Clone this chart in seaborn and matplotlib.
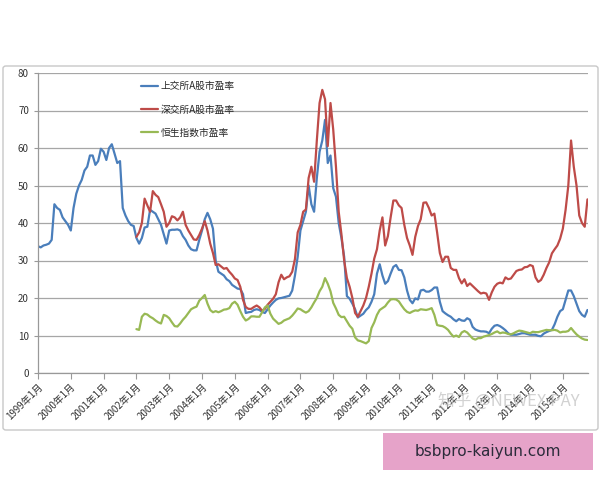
import pandas as pd
import matplotlib
matplotlib.use('Agg')
import matplotlib.pyplot as plt
import seaborn as sns
from matplotlib.patches import FancyBboxPatch, Rectangle

# monthly P/E, 1999-01 .. 2015-10 (month index 0 = 1999-01)
sh_start = 0
sh_pe = [
    33.8, 33.5, 34, 34.2, 34.5, 35.5, 45, 44, 43.5, 41.5, 40.5, 39.5,
    38, 44, 47.8, 50, 51.5, 54, 55, 58, 58, 55.5, 56.5, 59.8,
    59, 56.8, 60, 61, 58.5, 56, 56.5, 44, 42, 40.5, 39.5, 39.2,
    36, 34.5, 36, 38.8, 39, 43.5, 43, 42.5, 41, 39.5, 37, 34.5,
    38, 38.2, 38.2, 38.3, 38, 36.5, 35.5, 34, 33, 32.7, 32.7, 35.5,
    38, 41, 42.7, 41, 38.5, 30, 27, 26.5, 26, 25, 24.5, 23.5,
    23, 22.5, 22.4, 21, 16, 16.2, 16.3, 16.8, 17, 16.8, 16.3, 16,
    17, 18, 18.8, 19.5, 19.9, 20, 20.2, 20.4, 20.6, 22, 26, 31,
    38, 40.5, 43, 50, 45, 43, 52, 59, 62, 67.5, 56, 58,
    49.3, 47, 40, 36, 31, 20.5, 19.8, 18.5, 17, 14.8, 15.3, 15.8,
    16.8, 17.5, 19, 21, 26.5, 29, 26, 23.8, 24.5, 26.5, 28.3, 28.8,
    27.5, 27.4, 25.5, 22, 19.5, 18.6, 19.9, 19.6, 22, 22.2, 21.7, 21.7,
    22.1, 22.8, 22.8, 19, 16.5, 15.9, 15.4, 15, 14.3, 13.8, 14.4, 14,
    13.9, 14.6, 14.2, 12.3, 11.6, 11.3, 11.1, 11.1, 11, 10.6, 11.8, 12.6,
    12.8, 12.5, 12, 11.4, 10.6, 10.2, 10.2, 10.2, 10.4, 10.6, 10.6, 10.4,
    10.2, 10.2, 10.2, 9.9, 9.8, 10.5, 10.9, 11.2, 11.5, 13, 15, 16.5,
    17, 19.5, 22, 22, 20.5, 18.5, 16.5, 15.5, 15, 16.8,
]

sz_start = 36
sz_pe = [
    36.3, 37.5, 40, 46.5, 44.7, 43, 48.5, 47.5, 46.9, 45, 43, 39,
    40, 41.8, 41.5, 40.7, 41.5, 43, 39.5, 38, 36.8, 35.6, 35.5, 36.8,
    38.5, 40.5, 38, 34.5, 32, 28.8, 29, 28.4, 27.8, 28, 27, 26.2,
    25.2, 24.8, 23, 19.5, 17.6, 17.1, 17.1, 17.6, 18, 17.5, 16.6, 17.1,
    18.2, 19, 19.8, 21, 24.2, 26.2, 25, 25.5, 25.8, 27, 30.4, 37.5,
    39.5, 43, 43.6, 52, 55, 51, 62, 72, 75.5, 73, 60.5, 72,
    64.9, 55, 43, 37, 30, 25.3, 23, 20, 16, 15, 16.5, 18,
    20, 23, 26.5, 30.5, 33, 38, 41.5, 34, 36.5, 41.5, 46, 46,
    44.7, 44, 39.5, 36, 34, 31.5, 36.3, 39.2, 41, 45.4, 45.5, 44,
    42, 42.5, 37.5, 32, 29.6, 31, 31, 28, 27.5, 27.5, 25.3, 23.9,
    25, 23.2, 23.9, 23.2, 22.5, 21.8, 21.2, 21.4, 21.2, 19.5, 21.5, 23,
    23.8, 24.1, 23.9, 25.5, 25, 25.2, 26.2, 27.2, 27.5, 27.6, 28.2, 28.3,
    28.8, 28.5, 25.5, 24.3, 24.8, 26.2, 28, 29.5, 31.9, 33, 34, 35.8,
    38.5, 43.5, 50, 62, 55, 50, 42, 40, 39, 46.3,
]

hs_start = 36
hs_pe = [
    11.7, 11.5, 15, 15.8, 15.6, 15, 14.6, 14, 13.5, 13.2, 15.5, 15.2,
    14.6, 13.5, 12.5, 12.4, 13.2, 14.2, 15, 16, 17, 17.4, 17.7, 19.3,
    20, 20.8, 18.5, 16.8, 16.2, 16.5, 16.2, 16.5, 16.9, 17, 17.3, 18.5,
    19, 18.2, 16.5, 15, 14, 14.4, 15.1, 15.1, 15, 15, 16.2, 17.5,
    18, 15.8, 14.5, 13.8, 13.1, 13.4, 14, 14.3, 14.6, 15.3, 16.2, 17.2,
    17, 16.5, 16.1, 16.5, 17.5, 18.8, 20, 21.8, 23, 25.3, 23.8, 21.8,
    18.7, 17.2, 15.5, 14.9, 15, 13.8, 12.6, 11.8, 9.5, 8.7, 8.5, 8.2,
    7.9, 8.5, 12, 13.5, 15.5, 16.8, 17.3, 17.8, 18.8, 19.6, 19.7, 19.6,
    19.1, 18, 17, 16.3, 16, 16.4, 16.7, 16.6, 17, 16.9, 16.8, 17,
    17.3, 15.5, 12.8, 12.6, 12.5, 12.1, 11.5, 10.5, 9.7, 10, 9.6, 10.8,
    11.2, 10.8, 10, 9.2, 8.9, 9.3, 9.3, 9.7, 9.9, 10.1, 10.4, 10.8,
    11.1, 10.6, 10.8, 10.7, 10.4, 10.3, 10.6, 11, 11.3, 11.2, 11, 10.8,
    10.6, 11, 10.9, 10.9, 11.1, 11.3, 11.5, 11.4, 11.4, 11.5, 11.3, 10.8,
    11, 11, 11.2, 12, 11.1, 10.3, 9.7, 9.2, 8.9, 8.8,
]

series_names = ['上交所A股市盈率', '深交所A股市盈率', '恒生指数市盈率']
series_colors = ['#4A7EBB', '#BE4B48', '#98B954']
years = list(range(1999, 2016))
tick_labels = [f'{y}年1月' for y in years]

frames = []
for name, start, vals in zip(series_names, [sh_start, sz_start, hs_start], [sh_pe, sz_pe, hs_pe]):
    frames.append(pd.DataFrame({'month': range(start, start + len(vals)), 'pe': vals, 'series': name}))
df = pd.concat(frames, ignore_index=True)

sns.set_style('white')
plt.rcParams['font.family'] = ['Noto Sans CJK SC', 'DejaVu Sans']

fig = plt.figure(figsize=(6, 4.8), dpi=100)

# outer chart frame like the Excel chart area
fig.patches.append(FancyBboxPatch((3 / 600, 50 / 480), 595 / 600, 364 / 480,
                                  boxstyle='round,pad=0,rounding_size=0.005',
                                  transform=fig.transFigure, fill=False,
                                  edgecolor='#c8c8c8', linewidth=1.0))

ax = fig.add_axes([38 / 600, 107 / 480, 550 / 600, 300 / 480])
sns.lineplot(data=df, x='month', y='pe', hue='series', hue_order=series_names,
             palette=series_colors, linewidth=1.6, estimator=None, errorbar=None, ax=ax)

ax.set_xlim(0, 201.2)
ax.set_ylim(0, 80)
ax.set_yticks(range(0, 81, 10))
ax.set_xticks([12 * i for i in range(len(years))])
ax.set_xticklabels(tick_labels, rotation=45, ha='right', rotation_mode='anchor', fontsize=7, color='#333333')
ax.tick_params(axis='y', labelsize=7, colors='#333333', length=3, direction='out', left=True)
ax.tick_params(axis='x', length=4, direction='out', bottom=True, color='#999999', pad=2)
ax.tick_params(axis='y', color='#999999')
ax.yaxis.grid(True, color='#a6a6a6', linewidth=0.9)
ax.xaxis.grid(False)
for side in ['top', 'right']:
    ax.spines[side].set_visible(False)
for side in ['left', 'bottom']:
    ax.spines[side].set_color('#999999')
    ax.spines[side].set_linewidth(0.9)
ax.set_xlabel('')
ax.set_ylabel('')

ax.legend(loc='upper left', bbox_to_anchor=(0.18, 0.985), frameon=False, fontsize=7,
          labelspacing=1.35, handlelength=1.8, handletextpad=0.2, borderaxespad=0)

# watermark and banner
fig.text(0.73, 0.155, '知乎 @NEWEX PAY', fontsize=12, color='#bfbfbf', alpha=0.7)
fig.patches.append(Rectangle((383 / 600, 10 / 480), 210 / 600, 37 / 480,
                             transform=fig.transFigure, facecolor='#e6a3c9', edgecolor='none'))
fig.text(488 / 600, 28.5 / 480, 'bsbpro-kaiyun.com', fontsize=11, color='#2b2b3a',
         ha='center', va='center', family=['DejaVu Sans'])

fig.savefig('out.png', dpi=100)
